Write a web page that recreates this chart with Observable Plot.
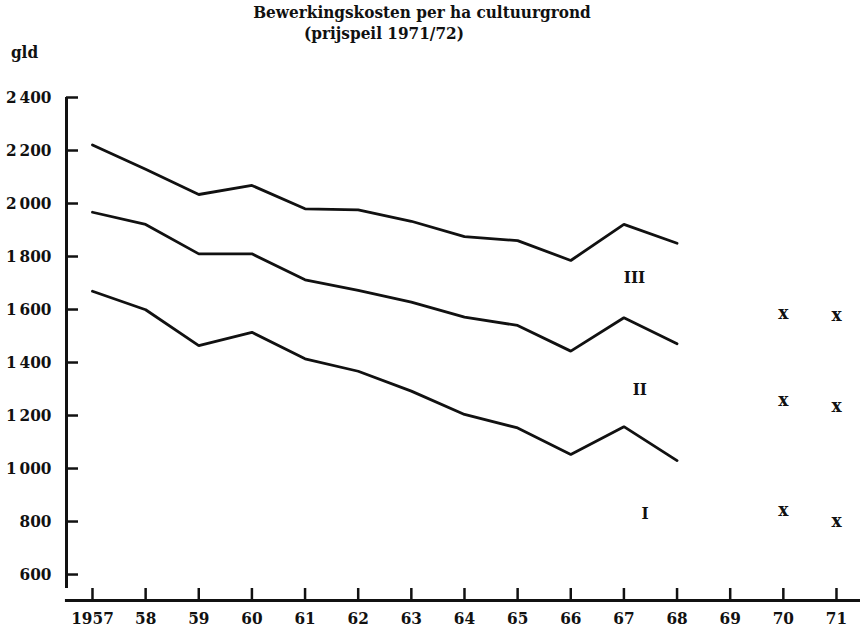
<!DOCTYPE html>
<html>
<head>
<meta charset="utf-8">
<script src="https://cdn.jsdelivr.net/npm/d3@7"></script>
<script src="https://cdn.jsdelivr.net/npm/@observablehq/plot@0.6"></script>
<style>
  html, body { margin: 0; padding: 0; background: #fff; }
  #wrap { position: relative; width: 863px; height: 628px; font-family: "DejaVu Serif", serif; font-stretch: condensed; font-weight: bold; color: #111; }
  .t { position: absolute; white-space: nowrap; font-size: 17px; line-height: 17px; }
</style>
</head>
<body>
<div id="wrap">
  <div class="t" style="left:0;width:844px;text-align:center;top:4px;">Bewerkingskosten per ha cultuurgrond</div>
  <div class="t" style="left:0;width:768px;text-align:center;top:25px;">(prijspeil 1971/72)</div>
</div>
<script>
// Data
const years = [1957, 1958, 1959, 1960, 1961, 1962, 1963, 1964, 1965, 1966, 1967, 1968];
const costI   = [1669, 1599, 1464, 1514, 1414, 1367, 1292, 1204, 1153, 1053, 1158, 1030];
const costII  = [1967, 1921, 1810, 1810, 1712, 1672, 1628, 1571, 1540, 1443, 1569, 1471];
const costIII = [2221, 2129, 2034, 2068, 1980, 1976, 1933, 1875, 1860, 1785, 1921, 1850];
const markYears = [1970, 1971];
const markI   = [839, 797];
const markII  = [1254, 1234];
const markIII = [1584, 1574];
const seriesNames = ["I", "II", "III"];
const labelYear = [1967.4, 1967.3, 1967.2];
const labelValue = [831, 1298, 1722];
const xTicks = [1957,1958,1959,1960,1961,1962,1963,1964,1965,1966,1967,1968,1969,1970,1971];
const xTickLabels = ["1957","58","59","60","61","62","63","64","65","66","67","68","69","70","71"];
const yTicks = [600, 800, 1000, 1200, 1400, 1600, 1800, 2000, 2200, 2400];
const yTickLabels = ["600","800","1\u2009000","1\u2009200","1\u2009400","1\u2009600","1\u2009800","2\u2009000","2\u2009200","2\u2009400"];

const lineRows = [];
[costI, costII, costIII].forEach((arr, k) => arr.forEach((v, i) => lineRows.push({series: seriesNames[k], year: years[i], value: v})));
const markRows = [];
[markI, markII, markIII].forEach((arr, k) => arr.forEach((v, i) => markRows.push({series: seriesNames[k], year: markYears[i], value: v})));
const labelRows = seriesNames.map((s, i) => ({series: s, year: labelYear[i], value: labelValue[i]}));

const xMin = 1956.511, xMax = 1971.452;
const yMin = 502, yMax = 2400;
const font = "DejaVu Serif";

const chart = Plot.plot({
  width: 863,
  height: 628,
  marginLeft: 66,
  marginRight: 3,
  marginTop: 97,
  marginBottom: 28,
  x: {domain: [xMin, xMax], axis: null},
  y: {domain: [yMin, yMax], axis: null},
  style: {fontFamily: font, fontWeight: "bold", background: "#fff", color: "#111", fontStretch: "condensed"},
  marks: [
    // axes lines
    Plot.ruleX([xMin], {y1: 547, y2: yMax, stroke: "#111", strokeWidth: 3}),
    Plot.ruleY([yMin], {x1: xMin - 0.02, x2: xMax, stroke: "#111", strokeWidth: 3}),
    // y ticks (inward)
    Plot.ruleY(yTicks, {x1: xMin, x2: xMin + 12 / 53.14, stroke: "#111", strokeWidth: 2.5}),
    // x ticks (upward)
    Plot.ruleX(xTicks, {y1: yMin, y2: yMin + 12 / 0.265, stroke: "#111", strokeWidth: 2.5}),
    // tick labels
    Plot.text(yTicks, {x: xMin, y: d => d, text: (d, i) => yTickLabels[i], textAnchor: "end", dx: -15, fontSize: 17, fontWeight: "bold", fill: "#111"}),
    Plot.text(xTicks, {x: d => d, y: yMin, text: (d, i) => xTickLabels[i], dy: 18, fontSize: 17, fontWeight: "bold", fill: "#111"}),
    Plot.text(["gld"], {x: xMin, y: yMax, text: d => d, dx: -42, dy: -45, fontSize: 17, fontWeight: "bold", fill: "#111"}),
    // series lines
    Plot.line(lineRows, {x: "year", y: "value", z: "series", stroke: "#111", strokeWidth: 2.8, strokeLinejoin: "miter"}),
    // 1970/71 markers
    Plot.text(markRows, {x: "year", y: "value", text: () => "x", fontSize: 19, fontWeight: "bold", fill: "#111", dy: -1}),
    // roman numeral labels
    Plot.text(labelRows, {x: "year", y: "value", text: "series", fontSize: 17, fontWeight: "bold", fill: "#111"})
  ]
});
document.getElementById("wrap").prepend(chart);
chart.style.position = "absolute";
chart.style.left = "0";
chart.style.top = "0";
</script>
</body>
</html>
